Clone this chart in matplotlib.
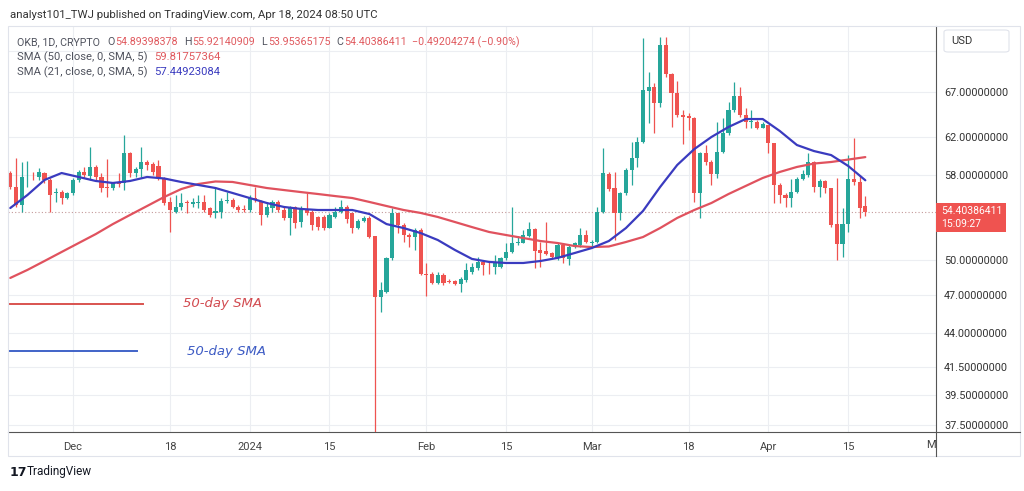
import matplotlib
matplotlib.use("Agg")
import matplotlib.pyplot as plt
import matplotlib.dates as mdates
import pandas as pd
from matplotlib import font_manager as fm
from matplotlib.lines import Line2D
from matplotlib.patches import Rectangle, FancyBboxPatch
from matplotlib.ticker import NullLocator

# OKB daily candles, 2023-11-20 .. 2024-04-18
start = "2023-11-20"
opens = [58.18, 56.78, 55.03, 57.73, 57.78, 57.78, 58.18, 57.48, 56.19, 56.28,
         55.70, 56.19, 57.48, 58.29, 57.88, 58.80, 57.78, 56.83, 56.68, 57.28,
         57.18, 60.24, 58.18, 58.59, 59.31, 59.10, 58.90, 57.68, 55.32, 54.36,
         54.84, 55.32, 55.13, 55.22, 55.32, 54.74, 54.27, 54.36, 55.41, 55.51,
         54.84, 54.65, 54.55, 55.70, 55.32, 54.08, 54.74, 55.32, 54.55, 53.80,
         54.84, 53.42, 54.55, 54.36, 53.89, 53.89, 52.86, 53.89, 54.36, 54.84,
         54.27, 52.86, 53.52, 53.80, 52.13, 46.88, 47.29, 50.18, 54.27, 53.14,
         52.22, 52.04, 52.68, 48.80, 48.80, 48.04, 48.71, 48.21, 48.21, 47.96,
         48.29, 48.97, 49.31, 49.83, 49.66, 49.40, 49.40, 50.18, 50.70, 51.50,
         51.50, 52.13, 52.77, 50.88, 50.79, 50.61, 50.18, 51.32, 50.09, 51.14,
         51.32, 52.22, 51.50, 51.59, 54.36, 58.08, 56.68, 54.27, 56.19, 58.49,
         59.72, 61.41, 67.12, 67.59, 65.73, 72.72, 69.13, 66.88, 64.37, 64.26,
         64.04, 56.19, 60.24, 59.31, 58.08, 60.35, 62.38, 64.93, 66.53, 64.37,
         63.59, 63.59, 62.93, 63.26, 61.31, 56.98, 55.99, 55.70, 56.28, 57.58,
         57.98, 59.31, 56.78, 57.38, 56.68, 53.23, 51.41, 53.23, 57.58, 57.28,
         54.89398378]
highs = [58.39, 59.72, 59.31, 59.41, 58.29, 58.70, 58.29, 57.68, 56.68, 56.48,
         56.28, 57.68, 58.49, 58.80, 60.88, 59.00, 58.18, 59.61, 57.28, 58.18,
         62.16, 60.35, 58.80, 60.88, 59.51, 59.31, 59.51, 57.78, 55.80, 55.99,
         56.19, 55.51, 55.70, 55.99, 55.99, 54.84, 56.78, 55.70, 56.28, 55.70,
         55.03, 55.03, 55.99, 56.78, 55.51, 55.22, 55.51, 55.51, 54.84, 54.93,
         54.93, 54.93, 56.19, 54.55, 53.99, 54.08, 54.27, 54.84, 55.51, 55.03,
         54.27, 53.70, 53.99, 53.99, 52.13, 48.12, 50.26, 54.74, 54.27, 53.33,
         52.40, 52.86, 52.86, 49.74, 48.97, 48.97, 48.88, 48.37, 48.29, 48.54,
         49.74, 49.74, 50.26, 49.83, 49.83, 50.44, 50.26, 51.50, 54.84, 52.13,
         52.68, 53.42, 52.86, 51.59, 53.42, 50.70, 51.50, 51.50, 51.32, 51.59,
         52.86, 52.68, 51.77, 54.84, 60.77, 58.29, 58.29, 56.28, 58.70, 61.41,
         61.95, 73.61, 69.38, 68.06, 73.74, 73.74, 69.25, 68.30, 64.93, 64.60,
         64.15, 60.35, 61.09, 59.51, 63.59, 64.04, 65.84, 68.18, 67.59, 65.16,
         64.93, 63.81, 63.59, 63.26, 61.31, 57.18, 56.19, 57.58, 57.78, 58.49,
         60.24, 59.41, 57.58, 57.48, 56.68, 57.68, 54.74, 60.03, 61.84, 57.98,
         55.92140909]
lows = [56.58, 54.84, 54.36, 56.78, 57.48, 57.48, 57.18, 54.36, 55.32, 55.13,
        55.61, 55.99, 57.28, 57.68, 57.48, 57.48, 56.28, 55.80, 56.48, 56.78,
        56.48, 57.78, 57.78, 57.78, 58.49, 57.98, 57.48, 55.03, 52.50, 54.27,
        54.55, 54.27, 54.84, 54.74, 54.36, 53.89, 53.80, 53.80, 55.22, 54.74,
        54.36, 54.36, 54.36, 55.32, 53.14, 53.89, 54.36, 54.36, 53.61, 52.22,
        52.86, 52.95, 54.08, 52.68, 52.68, 52.68, 52.86, 53.80, 54.27, 53.33,
        52.40, 52.77, 53.42, 51.95, 34.00, 45.67, 47.20, 50.00, 52.40, 51.59,
        51.14, 50.88, 48.71, 46.96, 47.96, 47.96, 47.87, 48.04, 47.87, 47.29,
        48.12, 48.80, 49.14, 48.71, 48.80, 48.80, 49.31, 50.00, 50.61, 51.32,
        51.50, 52.04, 49.31, 49.40, 50.44, 50.18, 50.00, 49.74, 49.57, 51.05,
        51.14, 51.50, 51.14, 51.50, 54.27, 56.38, 51.77, 53.61, 55.99, 56.98,
        58.80, 61.31, 63.48, 62.38, 65.27, 68.77, 63.04, 64.15, 61.20, 62.71,
        55.32, 53.80, 59.00, 56.98, 57.68, 60.24, 62.16, 64.71, 64.15, 62.93,
        62.93, 62.82, 62.93, 60.24, 55.22, 55.22, 54.84, 54.84, 56.19, 57.48,
        57.78, 56.28, 55.80, 56.19, 52.95, 50.00, 50.26, 52.50, 56.98, 53.80,
        53.95365175]
closes = [56.78, 55.03, 57.78, 57.78, 57.73, 58.29, 57.48, 55.99, 56.28, 55.70,
          56.19, 57.48, 58.29, 57.98, 58.80, 57.78, 56.68, 56.73, 57.18, 57.08,
          60.24, 58.18, 58.59, 59.31, 59.00, 58.29, 57.78, 55.22, 54.55, 54.84,
          55.22, 55.22, 55.32, 55.32, 54.55, 54.08, 54.46, 55.41, 55.51, 54.84,
          54.55, 54.55, 55.70, 55.51, 54.08, 54.84, 55.32, 54.55, 53.80, 54.84,
          53.33, 54.74, 54.27, 53.14, 52.95, 52.86, 54.08, 54.36, 54.84, 53.70,
          52.86, 53.52, 53.80, 52.04, 46.88, 47.45, 50.18, 54.27, 53.14, 52.22,
          52.04, 52.68, 48.80, 48.71, 48.04, 48.71, 48.04, 48.12, 47.96, 48.37,
          49.14, 49.40, 49.83, 49.57, 49.61, 49.83, 50.18, 50.70, 51.50, 51.59,
          52.22, 52.77, 50.79, 50.61, 50.53, 50.26, 51.32, 50.18, 51.14, 51.50,
          52.22, 51.59, 51.59, 54.36, 58.18, 56.58, 54.27, 56.19, 58.49, 59.72,
          61.41, 67.23, 67.59, 65.73, 72.72, 69.13, 66.88, 64.37, 64.15, 64.04,
          56.19, 60.24, 59.31, 58.08, 60.35, 62.38, 64.93, 66.53, 64.37, 63.59,
          63.70, 62.93, 63.37, 61.31, 56.98, 55.99, 55.70, 56.28, 57.58, 58.08,
          59.31, 56.78, 57.38, 56.68, 53.14, 51.41, 53.23, 57.58, 57.28, 54.74,
          54.40386411]

# moving averages read every 3 days (day offset from start)
sma_offsets = list(range(0, 151, 3))
sma50 = [48.46, 49.14, 49.91, 50.70, 51.50, 52.31, 53.23, 54.08, 54.93, 55.80,
         56.58, 57.08, 57.33, 57.28, 56.98, 56.68, 56.48, 56.28, 56.09, 55.89,
         55.70, 55.32, 54.93, 54.55, 54.27, 53.89, 53.42, 52.95, 52.50, 52.22,
         51.95, 51.68, 51.50, 51.23, 51.14, 51.19, 51.59, 52.04, 52.86, 53.80,
         54.55, 55.22, 56.09, 56.88, 57.68, 58.29, 58.80, 59.15, 59.31, 59.56,
         59.81757364]
sma21 = [54.74, 55.99, 57.48, 58.18, 57.78, 57.38, 57.18, 57.38, 57.78, 57.63,
         57.28, 56.98, 56.68, 56.19, 55.70, 55.22, 54.84, 54.65, 54.55, 54.55,
         54.55, 54.17, 53.23, 52.86, 52.40, 51.77, 50.88, 50.09, 49.83, 49.74,
         49.74, 49.91, 50.18, 50.61, 51.05, 51.68, 52.86, 54.46, 56.78, 59.00,
         60.66, 61.95, 63.04, 63.92, 63.92, 62.60, 61.09, 60.45, 60.03, 58.90,
         57.44923084]

assert len(opens) == len(highs) == len(lows) == len(closes) == 151
assert len(sma50) == len(sma21) == len(sma_offsets)

price_ticks = [67, 62, 58, 50, 47, 44, 41.5, 39.5, 37.5]
date_ticks = ["2023-12-01", "2023-12-18", "2024-01-01", "2024-01-15", "2024-02-01",
              "2024-02-15", "2024-03-01", "2024-03-18", "2024-04-01", "2024-04-15"]
date_labels = ["Dec", "18", "2024", "15", "Feb", "15", "Mar", "18", "Apr", "15"]

installed = {f.name for f in fm.fontManager.ttflist}
narrow = next((f for f in ["Liberation Sans Narrow", "Roboto"] if f in installed), "DejaVu Sans")
plt.rcParams["font.family"] = [narrow, "DejaVu Sans"]

W, H = 1024, 491
fig = plt.figure(figsize=(W / 100, H / 100), dpi=100)
fig.patch.set_facecolor("white")


def fx(px):
    return px / W


def fy(py):
    return 1 - py / H


ax = fig.add_axes([fx(8), fy(432), fx(936) - fx(8), fy(26) - fy(432)])
ax.set_facecolor("white")

dates = pd.date_range(start, periods=len(closes), freq="D")
x = mdates.date2num(dates)
sma_x = mdates.date2num(pd.Timestamp(start) + pd.to_timedelta(sma_offsets, unit="D"))

green, red = "#26a69a", "#ef5350"
cols = [green if c >= o else red for o, c in zip(opens, closes)]
bottoms = [min(o, c) for o, c in zip(opens, closes)]
heights = [max(abs(c - o), 0.08) for o, c in zip(opens, closes)]

ax.vlines(x, lows, highs, colors=cols, lw=0.9, zorder=3)
ax.bar(x, heights, bottom=bottoms, width=0.72, color=cols, zorder=3)

ax.plot(sma_x, sma50, color="#e0525e", lw=1.6, zorder=4, solid_capstyle="round")
ax.plot(sma_x, sma21, color="#3a3bbf", lw=1.6, zorder=4, solid_capstyle="round")

ax.set_yscale("log")
ax.set_ylim(37.05, 75.17)
ax.set_xlim(x[0] - 0.4, x[0] + 162.4)

ax.yaxis.tick_right()
ax.set_yticks(price_ticks)
ax.set_yticklabels([f"{p:.8f}" for p in price_ticks])
ax.yaxis.set_minor_locator(NullLocator())
ax.tick_params(axis="y", length=0, pad=5.8, labelsize=7.8, labelcolor="#333333")

ax.set_xticks(mdates.date2num(pd.to_datetime(date_ticks)))
ax.set_xticklabels(date_labels)
ax.tick_params(axis="x", length=0, pad=7, labelsize=8, labelcolor="#444444")

ax.grid(True, color="#eceef2", lw=0.8, zorder=0)
ax.axhline(72, color="#eceef2", lw=0.8, zorder=0)
ax.axhline(closes[-1], color="#c49a9a", lw=0.8, ls=(0, (1, 2)), zorder=2)

for side in ["top", "left"]:
    ax.spines[side].set_visible(False)
for side in ["right", "bottom"]:
    ax.spines[side].set_color("#555555")
    ax.spines[side].set_linewidth(0.8)

# hand-drawn legend marks inside the chart
ax.plot([0, 0.145], [0.316, 0.316], transform=ax.transAxes, color="#d9534f", lw=1.4, zorder=5)
ax.plot([0, 0.139], [0.200, 0.200], transform=ax.transAxes, color="#4063c8", lw=1.4, zorder=5)
ax.text(0.189, 0.316, "50-day SMA", transform=ax.transAxes, color="#d24b50",
        fontsize=9.5, style="italic", family="DejaVu Sans", va="center", zorder=5)
ax.text(0.193, 0.198, "50-day SMA", transform=ax.transAxes, color="#3d5bc4",
        fontsize=9.5, style="italic", family="DejaVu Sans", va="center", zorder=5)

# frame around the whole chart
fig.add_artist(Rectangle((fx(8), fy(456)), fx(1020) - fx(8), fy(26) - fy(456),
                         transform=fig.transFigure, fill=False, ec="#e0e3eb", lw=0.8))
fig.add_artist(Line2D([fx(936), fx(936)], [fy(432), fy(456)], transform=fig.transFigure,
                      color="#555555", lw=0.8))
fig.add_artist(Line2D([fx(936), fx(1020)], [fy(432), fy(432)], transform=fig.transFigure,
                      color="#555555", lw=0.8))
fig.text(fx(931), fy(445), "M", fontsize=8, color="#444444", ha="center", va="center")

# price tag and currency box on the right scale
fig.add_artist(Rectangle((fx(936), fy(232)), fx(1006) - fx(936), fy(203) - fy(232),
                         transform=fig.transFigure, color="#ef5350", lw=0))
fig.text(fx(941), fy(211), "54.40386411", color="white", fontsize=7.5, va="center")
fig.text(fx(941), fy(224), "15:09:27", color="white", fontsize=7.5, va="center")
fig.add_artist(FancyBboxPatch((fx(944), fy(52)), fx(1009) - fx(944), fy(30) - fy(52),
                              boxstyle="round,pad=0,rounding_size=0.004",
                              transform=fig.transFigure, fc="white", ec="#e0e3eb", lw=0.8))
fig.text(fx(951), fy(41), "USD", color="#333333", fontsize=8, va="center")

# header and legend text, laid out piece by piece
renderer = fig.canvas.get_renderer()
txt = "#50535e"
num = "#e0595e"


def line_of(px, py, parts, size):
    for s, c, gap in parts:
        t = fig.text(fx(px), fy(py), s, color=c, fontsize=size, va="center", family="Roboto")
        px += t.get_window_extent(renderer).width + gap


fig.text(fx(10), fy(15), "analyst101_TWJ published on TradingView.com, Apr 18, 2024 08:50 UTC",
         color="#333333", fontsize=8.2, va="center", family="Roboto")
line_of(17, 42, [("OKB, 1D, CRYPTO", txt, 7), ("O", txt, 1), ("54.89398378", num, 6),
                 ("H", txt, 1), ("55.92140909", num, 6), ("L", txt, 1), ("53.95365175", num, 6),
                 ("C", txt, 1), ("54.40386411", num, 5),
                 ("\u22120.49204274 (\u22120.90%)", num, 0)], 7.7)
line_of(17, 57, [("SMA (50, close, 0, SMA, 5)", txt, 7), ("59.81757364", num, 0)], 8.1)
line_of(17, 72, [("SMA (21, close, 0, SMA, 5)", txt, 7), ("57.44923084", "#3a3bbf", 0)], 8.1)

# TradingView logo
fig.text(fx(10), fy(472), "17", color="#131722", fontsize=9, weight="bold", va="center",
         family="DejaVu Sans")
fig.text(fx(27), fy(472), "TradingView", color="#131722", fontsize=8.5, va="center")

fig.savefig("out.png", dpi=100, facecolor="white")
